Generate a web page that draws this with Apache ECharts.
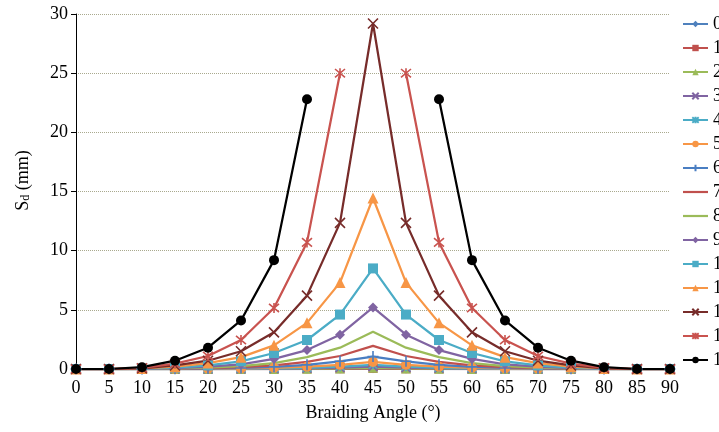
<!DOCTYPE html>
<html>
<head>
<meta charset="utf-8">
<script src="https://cdn.jsdelivr.net/npm/echarts@6/dist/echarts.min.js"></script>
<style>html,body{margin:0;padding:0;background:#fff}#c{width:719px;height:432px}</style>
</head>
<body>
<div id="c"></div>
<script>
var angles = [0,5,10,15,20,25,30,35,40,45,50,55,60,65,70,75,80,85,90];
var seriesNames = ['0','1','2','3','4','5','6','7','8','9','10','11','12','13','14'];
var s0  = [0,0,0,0,0,0,0,0,0.01,0.02,0.01,0,0,0,0,0,0,0,0];
var s1  = [0,0,0,0,0,0,0,0.01,0.02,0.05,0.02,0.01,0,0,0,0,0,0,0];
var s2  = [0,0,0,0,0,0,0.01,0.03,0.05,0.1,0.05,0.03,0.01,0,0,0,0,0,0];
var s3  = [0,0,0,0,0,0.01,0.03,0.06,0.12,0.2,0.12,0.06,0.03,0.01,0,0,0,0,0];
var s4  = [0,0,0,0,0.01,0.03,0.05,0.1,0.2,0.35,0.2,0.1,0.05,0.03,0.01,0,0,0,0];
var s5  = [0,0,0,0.01,0.02,0.05,0.1,0.2,0.35,0.6,0.35,0.2,0.1,0.05,0.02,0.01,0,0,0];
var s6  = [0,0,0,0.02,0.04,0.09,0.18,0.35,0.65,1.05,0.65,0.35,0.18,0.09,0.04,0.02,0,0,0];
var s7  = [0,0,0.01,0.03,0.07,0.15,0.3,0.6,1.1,1.95,1.1,0.6,0.3,0.15,0.07,0.03,0.01,0,0];
var s8  = [0,0,0.01,0.05,0.12,0.25,0.5,1.0,1.8,3.15,1.8,1.0,0.5,0.25,0.12,0.05,0.01,0,0];
var s9  = [0,0,0.02,0.08,0.2,0.4,0.85,1.6,2.9,5.2,2.9,1.6,0.85,0.4,0.2,0.08,0.02,0,0];
var s10 = [0,0,0.03,0.12,0.3,0.65,1.35,2.45,4.6,8.5,4.6,2.45,1.35,0.65,0.3,0.12,0.03,0,0];
var s11 = [0,0,0.05,0.2,0.5,1.0,2.0,3.9,7.3,14.45,7.3,3.9,2.0,1.0,0.5,0.2,0.05,0,0];
var s12 = [0,0,0.06,0.3,0.7,1.5,3.1,6.2,12.35,29.2,12.35,6.2,3.1,1.5,0.7,0.3,0.06,0,0];
var s13 = [0,0,0.1,0.45,1.1,2.45,5.15,10.7,25,null,25,10.7,5.15,2.45,1.1,0.45,0.1,0,0];
var s14 = [0,0,0.15,0.7,1.8,4.1,9.2,22.8,null,null,null,22.8,9.2,4.1,1.8,0.7,0.15,0,0];
var yTicks = [0,5,10,15,20,25,30];

var allData = [s0,s1,s2,s3,s4,s5,s6,s7,s8,s9,s10,s11,s12,s13,s14];
var colors = ['#4F81BD','#C0504D','#9BBB59','#8064A2','#4BACC6','#F79646','#4A7EC2','#C0504D','#9BBB59','#8064A2','#4BACC6','#F79646','#772C2A','#C9534F','#000000'];
var X = 'path://M0,0L10,10M10,0L0,10';
var STAR = 'path://M0,0L10,10M10,0L0,10M5,-1L5,11';
var PLUS = 'path://M5,0L5,10M0,5L10,5';
var LINE_ICON = 'path://M0,0L25,0L25,2.2L0,2.2Z';
var symbols = ['diamond','rect','triangle',X,STAR,'circle',PLUS,'none','none','diamond','rect','triangle',X,STAR,'circle'];
var sizes = [9,9,10,9,9,10,11,8,8,10,10,11,10,10,10];

var series = allData.map(function(d, i){
  var sym = symbols[i];
  var isLinePath = (sym === X || sym === STAR || sym === PLUS);
  return {
    name: seriesNames[i],
    type: 'line',
    data: angles.map(function(a, k){ return [a, d[k]]; }),
    connectNulls: false,
    symbol: sym,
    symbolSize: sizes[i],
    showAllSymbol: true,
    lineStyle: {color: colors[i], width: 2.25},
    itemStyle: {color: colors[i], borderColor: colors[i], borderWidth: isLinePath ? 1.6 : 0},
    emphasis: {disabled: true},
    animation: false
  };
});

var legendData = seriesNames.map(function(n, i){
  return symbols[i] === 'none' ? {name: n, icon: LINE_ICON} : {name: n};
});

var chart = echarts.init(document.getElementById('c'), null, {renderer: 'canvas'});
var font = 'Liberation Serif';
chart.setOption({
  backgroundColor: '#ffffff',
  animation: false,
  color: colors,
  grid: {left: 76, right: 49, top: 14, bottom: 63, containLabel: false},
  legend: {
    orient: 'vertical',
    left: 682,
    top: 15,
    padding: 0,
    itemWidth: 25,
    itemHeight: 8,
    itemGap: 6,
    symbolKeepAspect: true,
    textStyle: {fontFamily: font, fontSize: 18, color: '#000'},
    data: legendData
  },
  xAxis: {
    type: 'value',
    min: 0, max: 90, interval: 5,
    name: 'Braiding Angle (°)',
    nameLocation: 'middle',
    nameGap: 35,
    nameTextStyle: {fontFamily: font, fontSize: 18, color: '#000'},
    axisLine: {show: true, onZero: false, lineStyle: {color: '#000', width: 1}},
    axisTick: {show: false},
    axisLabel: {fontFamily: font, fontSize: 18, color: '#000', margin: 10},
    splitLine: {show: false}
  },
  yAxis: {
    type: 'value',
    min: yTicks[0], max: yTicks[yTicks.length-1], interval: 5,
    name: 'S{sub|d} (mm)',
    nameLocation: 'middle',
    nameGap: 44,
    nameTextStyle: {fontFamily: font, fontSize: 18, color: '#000', padding: [0,0,0,22],
      rich: {sub: {fontFamily: font, fontSize: 12, color: '#000', verticalAlign: 'bottom', padding: [6,0,0,0]}}},
    axisLine: {show: true, lineStyle: {color: '#000', width: 1}},
    axisTick: {show: true, length: 5, lineStyle: {color: '#000'}},
    axisLabel: {fontFamily: font, fontSize: 18, color: '#000', margin: 8},
    splitLine: {show: true, lineStyle: {color: '#A9A98E', type: 'dotted', width: 1}}
  },
  series: series
});
</script>
</body>
</html>
